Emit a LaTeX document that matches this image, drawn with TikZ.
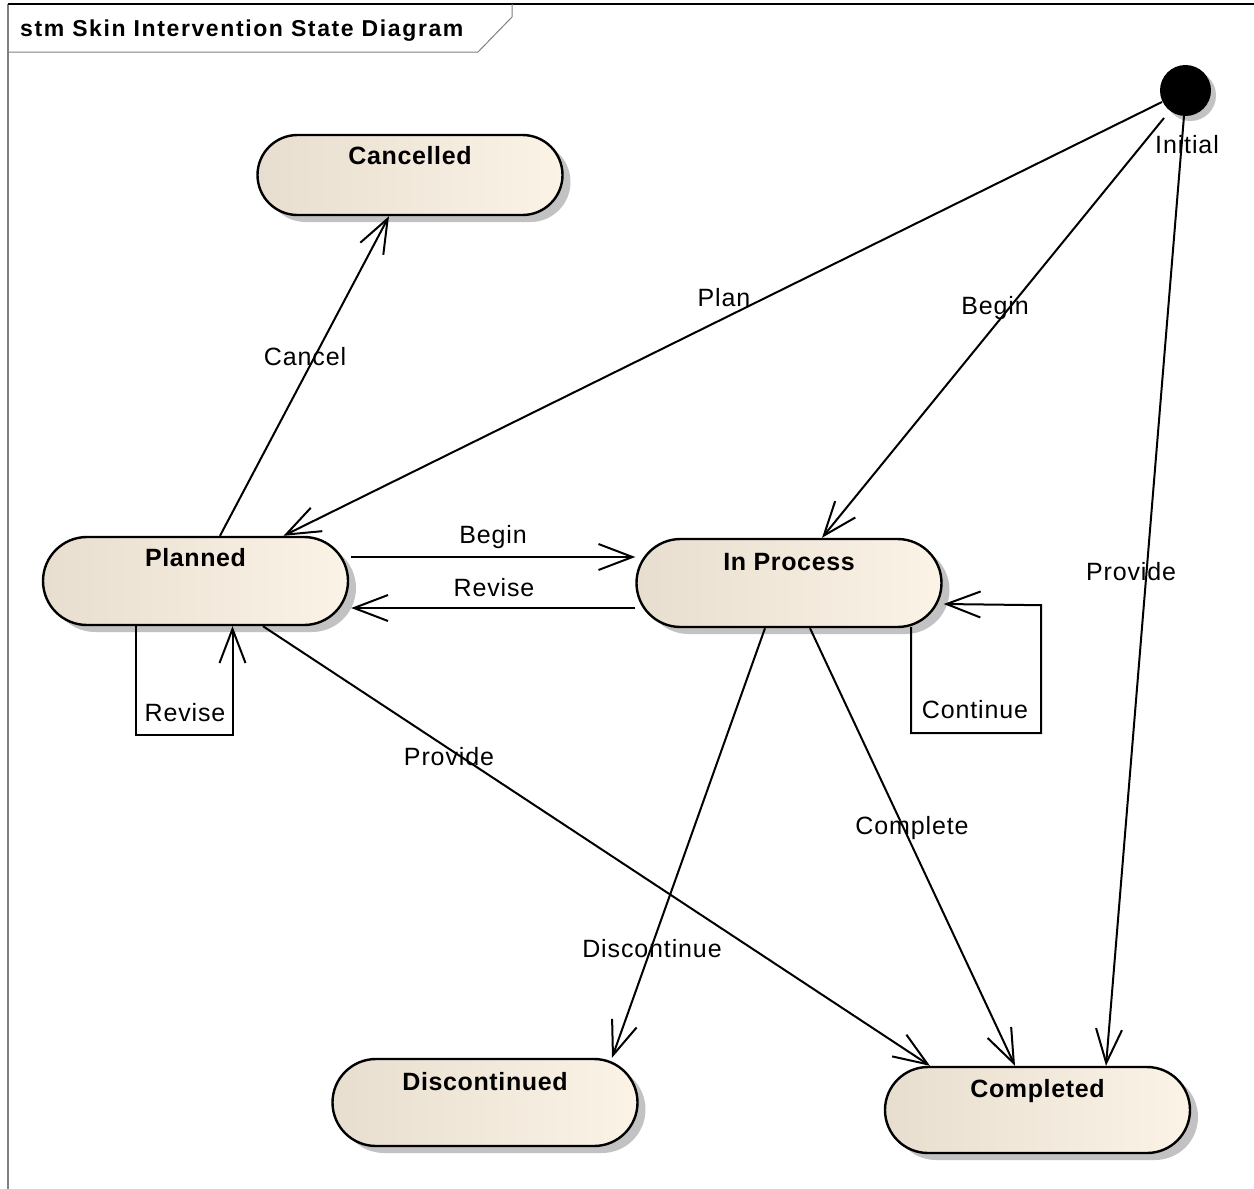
\documentclass[tikz,border=0pt]{standalone}
\usepackage{fontspec}
\setmainfont{Liberation Sans}
\newfontfamily\labelfont[LetterSpace=3.5]{Liberation Sans}
\newfontfamily\statefont[LetterSpace=2.5]{Liberation Sans}
\newfontfamily\titlefont[LetterSpace=7]{Liberation Sans}
\usetikzlibrary{arrows.meta,calc,shapes.misc,shadows}

\definecolor{stateL}{RGB}{231,222,207}
\definecolor{stateR}{RGB}{251,243,230}
\definecolor{framegray}{RGB}{128,128,128}

\tikzset{
  stateshape/.style={rounded rectangle, draw=black, line width=2.4pt,
    minimum width=305pt, minimum height=88pt, inner sep=0pt,
    left color=stateL, right color=stateR,
    drop shadow={shadow xshift=8pt, shadow yshift=-7pt, fill=black!24, opacity=1}},
  statename/.style={font=\statefont\bfseries\fontsize{25pt}{29pt}\selectfont, inner sep=0pt},
  trans/.style={line width=2pt, -{Straight Barb[length=34pt,width=26pt]}},
  tlabel/.style={font=\labelfont\fontsize{25pt}{29pt}\selectfont, inner sep=0pt},
}

\begin{document}
\begin{tikzpicture}[x=1pt, y=-1pt]
  \useasboundingbox (0,0) rectangle (1254,1189);
  \fill[white] (0,0) rectangle (1254,1189);

  % diagram frame and name tab
  \draw[framegray, line width=1.6pt] (8,4) -- (8,1189);
  \draw[black, line width=1.4pt] (8,4) -- (1254,4);
  \draw[framegray, line width=1pt] (8,52) -- (478,52) -- (512,17) -- (512,4);
  \node[font=\titlefont\bfseries\fontsize{23pt}{27pt}\selectfont, anchor=base west, inner sep=0pt]
    (title) at (20,36) {stm Skin Intervention State Diagram};

  % states
  \node[stateshape, minimum height=80pt] (cancelled) at (410,175) {};
  \node[stateshape] (planned) at (195.5,581) {};
  \node[stateshape] (inproc) at (789,583) {};
  \node[stateshape, minimum height=87pt] (discont) at (485,1102.5) {};
  \node[stateshape, minimum height=86pt] (completed) at (1037.5,1110) {};

  \node[statename] (cancelledname) at ($(cancelled.north)+(0,22)$) {Cancelled};
  \node[statename] (plannedname) at ($(planned.north)+(0,22)$) {Planned};
  \node[statename] (inprocname) at ($(inproc.north)+(0,24)$) {In Process};
  \node[statename] (discontname) at ($(discont.north)+(0,24)$) {Discontinued};
  \node[statename] (completedname) at ($(completed.north)+(0,25)$) {Completed};

  % initial pseudo-state
  \node[circle, fill=black, minimum size=51pt, inner sep=0pt,
    drop shadow={shadow xshift=5pt, shadow yshift=-5pt, fill=black!24, opacity=1}] (init) at (1185.5,90.5) {};
  \node[tlabel] (initname) at (1187,145) {Initial};

  % transitions from the initial state
  \draw[trans] ($(init.center)+(-23.5,11.5)$) -- ($(planned.north)+(88,0)$);
  \draw[trans] ($(init.center)+(-21.5,27.5)$) -- ($(inproc.north)+(33,0)$);
  \draw[trans] ($(init.center)+(-1.5,25.5)$) -- ($(completed.north)+(68.5,0)$);

  % transitions between states
  \draw[trans] ($(planned.north)+(24.5,0)$) -- ($(cancelled.south)+(-21,0)$);
  \draw[trans] ($(planned.east)+(2,-24)$) -- ($(inproc.west)+(0,-26)$);
  \draw[trans] ($(inproc.west)+(0,25)$) -- ($(planned.east)+(2,27)$);
  \draw[trans] ($(planned.south)+(67.5,0)$) -- ($(completed.north)+(-107.5,0)$);
  \draw[trans] ($(inproc.south)+(-24,0)$) -- ($(discont.north)+(127,0)$);
  \draw[trans] ($(inproc.south)+(21,0)$) -- ($(completed.north)+(-22.5,0)$);

  % self transitions
  \draw[trans] ($(planned.south)+(-59.5,0)$) -- ++(0,109) -- ++(96.5,0) -- ($(planned.south)+(37,0)$);
  \draw[trans] ($(inproc.south)+(122,-1)$) -- ++(0,106) -- ++(130,0) -- ++(0,-128) -- ($(inproc.east)+(1,21)$);

  % transition labels
  \node[tlabel] (lplan) at (724,298) {Plan};
  \node[tlabel] (lbegin1) at (995,308) {Begin};
  \node[tlabel] (lprovide1) at (1131,572) {Provide};
  \node[tlabel] (lcancel) at (305,357) {Cancel};
  \node[tlabel] (lbegin2) at (493,537) {Begin};
  \node[tlabel] (lrevise1) at (494,588) {Revise};
  \node[tlabel] (lrevise2) at (185,713) {Revise};
  \node[tlabel] (lcontinue) at (975,710) {Continue};
  \node[tlabel] (lprovide2) at (449,757) {Provide};
  \node[tlabel] (ldiscont) at (652,949) {Discontinue};
  \node[tlabel] (lcomplete) at (912,828) {Complete};
\end{tikzpicture}
\end{document}
